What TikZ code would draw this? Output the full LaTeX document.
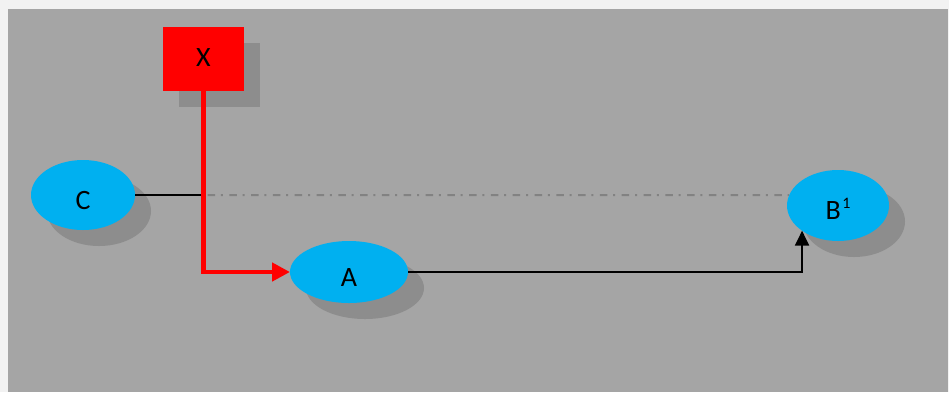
\documentclass[tikz,border=0pt]{standalone}
\usepackage{fontspec}
\setmainfont{Carlito}
\usetikzlibrary{shapes.geometric,shadows,arrows.meta}
\definecolor{outerbg}{HTML}{F2F2F2}
\definecolor{canvasgray}{HTML}{A5A5A5}
\definecolor{shadowgray}{HTML}{8D8D8D}
\definecolor{nodeblue}{HTML}{00B0F0}
\definecolor{dashgray}{HTML}{828282}
\tikzset{
  shad/.style={drop shadow={shadow xshift=16pt,shadow yshift=-16pt,fill=shadowgray,opacity=1}},
  oval/.style={ellipse,fill=nodeblue,inner sep=0pt,outer sep=0pt,shad,
    font=\fontsize{28}{30}\selectfont,text height=28pt,text depth=0pt},
  redbox/.style={rectangle,fill=red,inner sep=0pt,outer sep=0pt,shad,
    minimum width=81pt,minimum height=64pt,
    font=\fontsize{28}{30}\selectfont,text height=18pt,text depth=4pt},
  redline/.style={draw=red,line width=4.7pt,-{Triangle[length=18pt,width=18pt]}},
  blackline/.style={draw=black,line width=2pt},
  blackarrow/.style={blackline,-{Triangle[length=15pt,width=14pt]}},
  dashdotline/.style={draw=dashgray,line width=2pt,
    dash pattern=on 7.5pt off 5.8pt on 2pt off 6.5pt,dash phase=17.8pt}
}
\begin{document}
\begin{tikzpicture}[x=1pt,y=-1pt]
\useasboundingbox (0,0) rectangle (949,392);
\fill[outerbg] (0,0) rectangle (949,392);
\fill[canvasgray] (8,9) rectangle (948,392);
% nodes
\node[redbox] (X) at (203.5,59) {X};
\node[oval,minimum width=104pt,minimum height=70pt] (C) at (83,195) {C};
\node[oval,minimum width=118pt,minimum height=62pt] (A) at (349,272) {A};
\node[oval,minimum width=102pt,minimum height=71pt] (B) at (838,205.5)
  {B\hspace{1.5pt}\raisebox{11pt}{\fontsize{16}{16}\selectfont 1}};
% connectors
\coordinate (J) at (X.south |- C.east);
\draw[blackline] (C.east) -- (J);
\draw[dashdotline] (J) -- (B.168);
\draw[blackarrow] (A.east) -| (B.-145);
\draw[redline] (X.south) |- (A.west);
\end{tikzpicture}
\end{document}
